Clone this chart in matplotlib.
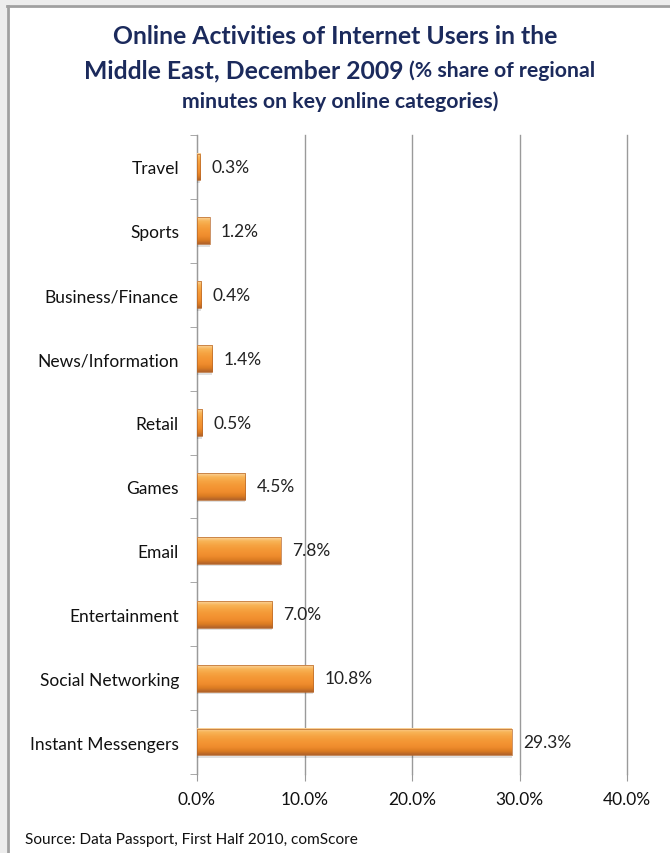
import matplotlib
matplotlib.use("Agg")
import matplotlib.pyplot as plt
import numpy as np
from matplotlib.colors import LinearSegmentedColormap
from matplotlib.patches import Rectangle

plt.rcParams['font.family'] = ['Lato', 'DejaVu Sans']

# data, top to bottom as shown in the chart
categories = ['Travel', 'Sports', 'Business/Finance', 'News/Information', 'Retail',
              'Games', 'Email', 'Entertainment', 'Social Networking', 'Instant Messengers']
shares = [0.3, 1.2, 0.4, 1.4, 0.5, 4.5, 7.8, 7.0, 10.8, 29.3]
x_ticks = [0, 10, 20, 30, 40]
x_tick_labels = ['0.0%', '10.0%', '20.0%', '30.0%', '40.0%']

navy = '#1B2A5C'
grid_col = '#9A9A9A'

fig = plt.figure(figsize=(6.7, 8.54), dpi=100)

# frame / shadow at top and left
fig.patches.append(Rectangle((0, 1 - 6 / 854), 1, 6 / 854, transform=fig.transFigure,
                             facecolor='#EDEDED', edgecolor='none', zorder=0))
fig.patches.append(Rectangle((0, 0), 7 / 670, 1, transform=fig.transFigure,
                             facecolor='#EDEDED', edgecolor='none', zorder=0))
fig.add_artist(plt.Line2D([7 / 670, 1], [1 - 7 / 854, 1 - 7 / 854], transform=fig.transFigure,
                          color='#A0A0A0', lw=2))
fig.add_artist(plt.Line2D([7.5 / 670, 7.5 / 670], [0, 1 - 7 / 854], transform=fig.transFigure,
                          color='#A0A0A0', lw=2))

ax = fig.add_axes([197 / 670, 1 - 775 / 854, 430 / 670, 639 / 854])

y = np.arange(len(categories))
bars = ax.barh(y, shares, height=0.42, color='#F39332', edgecolor='none', zorder=3)

# cylinder-like shading: thin light rim at top, bright band, darker towards the bottom
cmap = LinearSegmentedColormap.from_list(
    'orng', ['#FBD49C', '#F8B456', '#F6A544', '#F49A38', '#F39332', '#EE8B2C', '#DC7C22', '#B0622A'])
grad = np.linspace(0, 1, 64).reshape(-1, 1)
for b in bars:
    x0, y0 = b.get_x(), b.get_y()
    w, h = b.get_width(), b.get_height()
    # soft shadow below the bar
    ax.add_patch(Rectangle((x0, y0 + 0.04), w, h, facecolor='#000000', alpha=0.12,
                           edgecolor='none', zorder=2.9))
    ax.imshow(grad, cmap=cmap, aspect='auto', extent=(x0, x0 + w, y0 + h, y0),
              origin='upper', zorder=3.5, interpolation='bicubic')
    ax.add_patch(Rectangle((x0, y0), w, h, facecolor='none', edgecolor='#B8682A', lw=0.5, zorder=4))

for b, v in zip(bars, shares):
    ax.annotate(f'{v:.1f}%', (b.get_width(), b.get_y() + b.get_height() / 2),
                xytext=(8, 0), textcoords='offset points', va='center', ha='left',
                fontsize=12.5, color='#222222', zorder=5)

ax.set_xlim(0, 40)
ax.set_ylim(len(categories) - 0.5, -0.5)
ax.set_yticks(y)
ax.set_yticklabels(categories, fontsize=12.5, color='#111111')
ax.set_yticks(np.arange(-0.5, len(categories), 1), minor=True)
ax.tick_params(axis='y', which='major', length=0, pad=13)
ax.tick_params(axis='y', which='minor', length=5, color=grid_col, direction='out')
ax.set_xticks(x_ticks)
ax.set_xticklabels(x_tick_labels, fontsize=12.5, color='#111111')
ax.tick_params(axis='x', length=5, color=grid_col, direction='out', pad=7)
ax.grid(axis='x', color=grid_col, lw=1, zorder=0)
for gl in ax.get_xgridlines():
    gl.set_clip_on(False)
ax.set_axisbelow(True)
for s in ['top', 'right']:
    ax.spines[s].set_visible(False)
ax.spines['left'].set_color(grid_col)
ax.spines['bottom'].set_visible(False)

# title
fig.text(0.5, 1 - 37 / 854, 'Online Activities of Internet Users in the', ha='center', va='center',
         fontsize=17.8, fontweight='bold', color=navy)
fig.text(403 / 670, 1 - 71 / 854, 'Middle East, December 2009', ha='right', va='center',
         fontsize=17.8, fontweight='bold', color=navy)
fig.text(409 / 670, 1 - 71 / 854, '(% share of regional', ha='left', va='center',
         fontsize=15.3, fontweight='bold', color=navy)
fig.text(0.508, 1 - 102 / 854, 'minutes on key online categories)', ha='center', va='center',
         fontsize=15.3, fontweight='bold', color=navy)

fig.text(25 / 670, 1 - 840 / 854, 'Source: Data Passport, First Half 2010, comScore', ha='left', va='center',
         fontsize=11.1, color='#111111')

fig.savefig('out.png', dpi=100)
